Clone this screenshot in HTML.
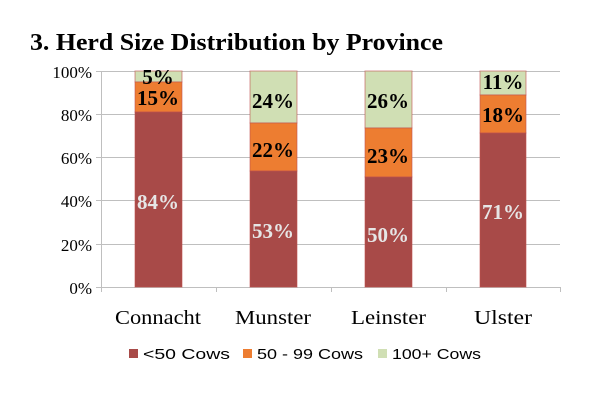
<!DOCTYPE html><html><head><style>body{margin:0;background:#fff}</style></head><body>
<svg width="600" height="404" xmlns="http://www.w3.org/2000/svg" font-family="Liberation Serif, serif">
<text x="30" y="50" font-size="24" font-weight="bold" fill="#000" textLength="413" lengthAdjust="spacingAndGlyphs">3. Herd Size Distribution by Province</text>
<g stroke="#bfbfbf" stroke-width="1">
<line x1="101" y1="71.5" x2="560" y2="71.5"/><line x1="101" y1="114.5" x2="560" y2="114.5"/><line x1="101" y1="157.5" x2="560" y2="157.5"/><line x1="101" y1="200.5" x2="560" y2="200.5"/><line x1="101" y1="244.5" x2="560" y2="244.5"/>
<line x1="96" y1="287.5" x2="560" y2="287.5"/><line x1="101.5" y1="71" x2="101.5" y2="292"/>
<line x1="96" y1="71.5" x2="101" y2="71.5"/><line x1="96" y1="114.5" x2="101" y2="114.5"/><line x1="96" y1="157.5" x2="101" y2="157.5"/><line x1="96" y1="200.5" x2="101" y2="200.5"/><line x1="96" y1="244.5" x2="101" y2="244.5"/>
<line x1="216.5" y1="287" x2="216.5" y2="292"/><line x1="331.5" y1="287" x2="331.5" y2="292"/><line x1="446.5" y1="287" x2="446.5" y2="292"/><line x1="560.5" y1="287" x2="560.5" y2="292"/>
</g>
<g font-size="17" text-anchor="end" fill="#000"><text x="92" y="78">100%</text><text x="92" y="121">80%</text><text x="92" y="164">60%</text><text x="92" y="207">40%</text><text x="92" y="251">20%</text><text x="92" y="294">0%</text></g>
<g stroke="#c0504d" stroke-opacity="0.6" stroke-width="1">
<rect x="135" y="71" width="47" height="11" fill="#d0dfb4"/><rect x="135" y="82" width="47" height="30" fill="#ed7d31"/><rect x="135" y="112" width="47" height="175" fill="#a84a48"/>
<rect x="250" y="71" width="47" height="52" fill="#d0dfb4"/><rect x="250" y="123" width="47" height="48" fill="#ed7d31"/><rect x="250" y="171" width="47" height="116" fill="#a84a48"/>
<rect x="365" y="71" width="47" height="57" fill="#d0dfb4"/><rect x="365" y="128" width="47" height="49" fill="#ed7d31"/><rect x="365" y="177" width="47" height="110" fill="#a84a48"/>
<rect x="480" y="71" width="46" height="24" fill="#d0dfb4"/><rect x="480" y="95" width="46" height="38" fill="#ed7d31"/><rect x="480" y="133" width="46" height="154" fill="#a84a48"/>
</g>
<g font-size="21" font-weight="bold" text-anchor="middle">
<text x="158" y="84" fill="#000">5%</text><text x="158" y="105" fill="#000">15%</text><text x="158" y="209" fill="#e6e6e6">84%</text>
<text x="273" y="108" fill="#000">24%</text><text x="273" y="157" fill="#000">22%</text><text x="273" y="238" fill="#e6e6e6">53%</text>
<text x="388" y="108" fill="#000">26%</text><text x="388" y="163" fill="#000">23%</text><text x="388" y="242" fill="#e6e6e6">50%</text>
<text x="503" y="89" fill="#000">11%</text><text x="503" y="122" fill="#000">18%</text><text x="503" y="219" fill="#e6e6e6">71%</text>
</g>
<g font-size="20" fill="#000"><text x="115" y="324" textLength="86" lengthAdjust="spacingAndGlyphs">Connacht</text><text x="235" y="324" textLength="76" lengthAdjust="spacingAndGlyphs">Munster</text><text x="351" y="324" textLength="75" lengthAdjust="spacingAndGlyphs">Leinster</text><text x="474" y="324" textLength="58" lengthAdjust="spacingAndGlyphs">Ulster</text></g>
<g font-size="15" fill="#000" font-family="Liberation Sans, sans-serif">
<rect x="129" y="349" width="9" height="9" fill="#a84a48"/><text x="143" y="359" textLength="87" lengthAdjust="spacingAndGlyphs">&lt;50 Cows</text>
<rect x="243" y="349" width="9" height="9" fill="#ed7d31"/><text x="257" y="359" textLength="106" lengthAdjust="spacingAndGlyphs">50 - 99 Cows</text>
<rect x="378" y="349" width="9" height="9" fill="#d0dfb4"/><text x="392" y="359" textLength="89" lengthAdjust="spacingAndGlyphs">100+ Cows</text>
</g>
</svg></body></html>
